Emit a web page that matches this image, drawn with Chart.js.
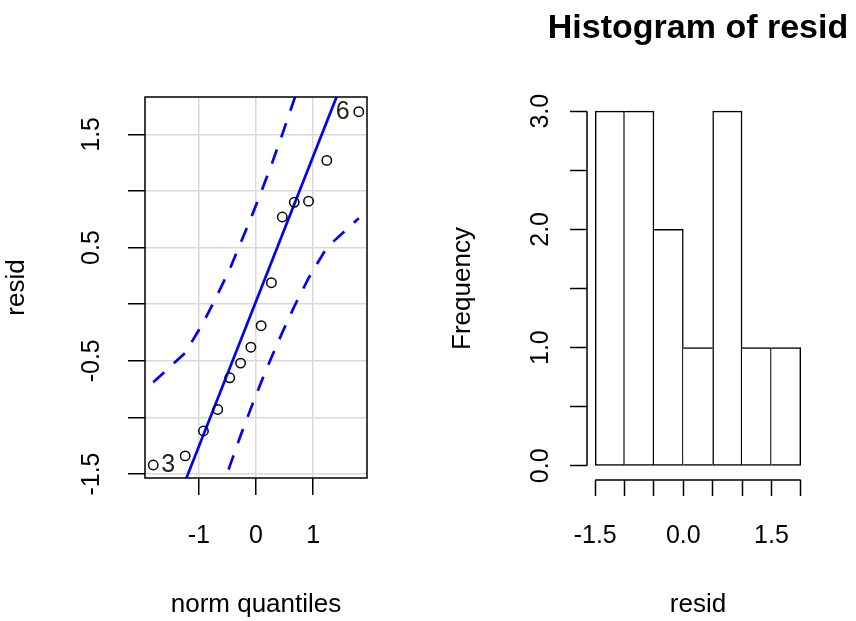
<!DOCTYPE html>
<html>
<head>
<meta charset="utf-8">
<title>resid: qq plot and histogram</title>
<script src="https://cdn.jsdelivr.net/npm/chart.js@4.4.1/dist/chart.umd.min.js"></script>
<style>
  html, body { margin: 0; padding: 0; background: #fff; overflow: hidden; }
  #wrap { position: relative; width: 856px; height: 621px; }
  .panel { position: absolute; top: 0; }
  #qqBox { left: 0; }
  #histBox { left: 430px; }
</style>
</head>
<body>
<div id="wrap">
  <div class="panel" id="qqBox"><canvas id="qqChart" width="430" height="621"></canvas></div>
  <div class="panel" id="histBox"><canvas id="histChart" width="426" height="621"></canvas></div>
</div>
<script>
// --- qq plot data ---
const normQuantiles = [-1.80, -1.24, -0.92, -0.67, -0.46, -0.27, -0.09, 0.09, 0.27, 0.46, 0.67, 0.92, 1.24, 1.80];
const resid = [-1.42, -1.34, -1.12, -0.93, -0.65, -0.52, -0.38, -0.19, 0.19, 0.77, 0.90, 0.91, 1.27, 1.70];
const envelopeUpper = [-0.69, -0.43, -0.16, 0.09, 0.31, 0.54, 0.76, 0.99, 1.23, 1.50, 1.81, 2.19, 2.74, 3.91];
const envelopeLower = [-3.84, -2.67, -2.12, -1.74, -1.43, -1.16, -0.92, -0.69, -0.47, -0.25, -0.02, 0.23, 0.50, 0.76];
const pointIds = ["3", "", "", "", "", "", "", "", "", "", "", "", "", "6"];
const lineIntercept = 0.025;
const lineSlope = 1.28;
const qqXTicks = [-1, 0, 1];
const qqXTickLabels = ["-1", "0", "1"];
const qqYTicks = [-1.5, -1, -0.5, 0, 0.5, 1, 1.5];
const qqYTickLabels = ["-1.5", "", "-0.5", "", "0.5", "", "1.5"];

// --- histogram data ---
const binEdges = [-1.5, -1, -0.5, 0, 0.5, 1, 1.5, 2];
const frequencies = [3, 3, 2, 1, 3, 1, 1];
const histXTickLabels = ["-1.5", "", "", "0.0", "", "", "1.5", ""];
const histYTicks = [0, 0.5, 1, 1.5, 2, 2.5, 3];
const histYTickLabels = ["0.0", "", "1.0", "", "2.0", "", "3.0"];
const histTitleText = "Histogram of resid";

const FONT = "'Liberation Sans', Arial, Helvetica, sans-serif";
Chart.defaults.font.family = FONT;
Chart.defaults.color = "#000";

const setTicks = values => scale => { scale.ticks = values.map(v => ({ value: v })); };

// box around the qq panel
const frameBox = {
  id: "frameBox",
  afterDraw(chart) {
    const { ctx, chartArea: a } = chart;
    ctx.save();
    ctx.strokeStyle = "#000";
    ctx.lineWidth = 1.5;
    ctx.strokeRect(a.left, a.top, a.right - a.left, a.bottom - a.top);
    ctx.restore();
  }
};

// point id labels ("3", "6")
const idLabels = {
  id: "idLabels",
  afterDatasetsDraw(chart) {
    const meta = chart.getDatasetMeta(0);
    const ctx = chart.ctx;
    ctx.save();
    ctx.font = "25px " + FONT;
    ctx.fillStyle = "#222";
    ctx.textBaseline = "middle";
    pointIds.forEach((id, i) => {
      if (!id) return;
      const el = meta.data[i];
      const right = normQuantiles[i] < 0;
      ctx.textAlign = right ? "left" : "right";
      ctx.fillText(id, el.x + (right ? 8 : -9), el.y);
    });
    ctx.restore();
  }
};

const qqXMin = -1.944, qqXMax = 1.944;

new Chart(document.getElementById("qqChart"), {
  type: "scatter",
  data: {
    datasets: [
      {
        data: normQuantiles.map((q, i) => ({ x: q, y: resid[i] })),
        pointRadius: 4.7,
        pointBorderWidth: 1.5,
        pointBorderColor: "#000",
        pointBackgroundColor: "rgba(0,0,0,0)",
        showLine: false
      },
      {
        data: [qqXMin, qqXMax].map(x => ({ x, y: lineIntercept + lineSlope * x })),
        showLine: true,
        borderColor: "#0000ff",
        borderWidth: 2.7,
        pointRadius: 0,
        clip: 0
      },
      {
        data: normQuantiles.map((q, i) => ({ x: q, y: envelopeUpper[i] })),
        showLine: true,
        borderColor: "#0000ff",
        borderWidth: 2.7,
        borderDash: [15, 13],
        pointRadius: 0,
        clip: 0
      },
      {
        data: normQuantiles.map((q, i) => ({ x: q, y: envelopeLower[i] })),
        showLine: true,
        borderColor: "#0000ff",
        borderWidth: 2.7,
        borderDash: [15, 13],
        pointRadius: 0,
        clip: 0
      }
    ]
  },
  options: {
    responsive: false,
    animation: false,
    layout: { padding: { top: 97, right: 63, bottom: 0, left: 0 } },
    plugins: { legend: { display: false }, tooltip: { enabled: false } },
    scales: {
      x: {
        type: "linear",
        min: qqXMin,
        max: qqXMax,
        afterBuildTicks: setTicks(qqXTicks),
        afterFit: s => { s.height = 143; },
        grid: { color: "#d9d9d9", lineWidth: 1.5, tickLength: 17, tickColor: "#000", tickWidth: 1.5 },
        border: { display: false },
        ticks: { autoSkip: false, maxRotation: 0, padding: 26, font: { size: 25 }, callback: (v, i) => qqXTickLabels[i] },
        title: { display: true, text: "norm quantiles", font: { size: 26 }, padding: { top: 0, bottom: 1 } }
      },
      y: {
        type: "linear",
        min: -1.535,
        max: 1.83,
        afterBuildTicks: setTicks(qqYTicks),
        afterFit: s => { s.width = 145; },
        grid: { color: "#d9d9d9", lineWidth: 1.5, tickLength: 17, tickColor: "#000", tickWidth: 1.5 },
        border: { display: false },
        ticks: { autoSkip: false, minRotation: 90, maxRotation: 90, crossAlign: "center", padding: 14, font: { size: 25 }, callback: (v, i) => qqYTickLabels[i] },
        title: { display: true, text: "resid", font: { size: 26 }, padding: { top: 1, bottom: 0 } }
      }
    }
  },
  plugins: [frameBox, idLabels]
});

// R-style axis lines that only span first to last tick, plus the main title
const histAxes = {
  id: "histAxes",
  afterDraw(chart) {
    const { ctx, chartArea: a, scales: { x, y } } = chart;
    ctx.save();
    ctx.strokeStyle = "#000";
    ctx.lineWidth = 1.5;
    ctx.beginPath();
    ctx.moveTo(a.left, y.getPixelForValue(histYTicks[0]));
    ctx.lineTo(a.left, y.getPixelForValue(histYTicks[histYTicks.length - 1]));
    ctx.moveTo(x.getPixelForValue(binEdges[0]), a.bottom);
    ctx.lineTo(x.getPixelForValue(binEdges[binEdges.length - 1]), a.bottom);
    ctx.stroke();
    ctx.font = "bold 34px " + FONT;
    ctx.fillStyle = "#000";
    ctx.textAlign = "center";
    ctx.textBaseline = "alphabetic";
    ctx.fillText(histTitleText, (a.left + a.right) / 2, 38);
    ctx.restore();
  }
};

// shared edges between bars are drawn once, by the taller bar
const barBorder = ctx => {
  const i = ctx.dataIndex, f = frequencies;
  const w = 1.5;
  return {
    top: w,
    bottom: w,
    left: i > 0 && f[i - 1] >= f[i] ? 0 : w,
    right: i < f.length - 1 && f[i + 1] > f[i] ? 0 : w
  };
};

new Chart(document.getElementById("histChart"), {
  type: "bar",
  data: {
    datasets: [{
      data: frequencies.map((n, i) => ({ x: (binEdges[i] + binEdges[i + 1]) / 2, y: n })),
      backgroundColor: "#fff",
      borderColor: "#000",
      borderWidth: barBorder,
      borderSkipped: false,
      barPercentage: 1,
      categoryPercentage: 1
    }]
  },
  options: {
    responsive: false,
    animation: false,
    layout: { padding: { top: 97, right: 47, bottom: 0, left: 0 } },
    plugins: { legend: { display: false }, tooltip: { enabled: false } },
    scales: {
      x: {
        type: "linear",
        min: -1.64,
        max: 2.14,
        offset: false,
        afterBuildTicks: setTicks(binEdges),
        afterFit: s => { s.height = 141; },
        grid: { offset: false, drawOnChartArea: false, tickLength: 16, tickColor: "#000", tickWidth: 1.5 },
        border: { display: false },
        ticks: { autoSkip: false, maxRotation: 0, padding: 25, font: { size: 25 }, callback: (v, i) => histXTickLabels[i] },
        title: { display: true, text: "resid", font: { size: 26 }, padding: { top: 0, bottom: 1 } }
      },
      y: {
        type: "linear",
        min: -0.12,
        max: 3.12,
        afterBuildTicks: setTicks(histYTicks),
        afterFit: s => { s.width = 157; },
        grid: { drawOnChartArea: false, tickLength: 17, tickColor: "#000", tickWidth: 1.5 },
        border: { display: false },
        ticks: { autoSkip: false, minRotation: 90, maxRotation: 90, crossAlign: "center", padding: 12, font: { size: 25 }, callback: (v, i) => histYTickLabels[i] },
        title: { display: true, text: "Frequency", font: { size: 26 }, padding: { top: 17, bottom: 0 } }
      }
    }
  },
  plugins: [histAxes]
});
</script>
</body>
</html>
